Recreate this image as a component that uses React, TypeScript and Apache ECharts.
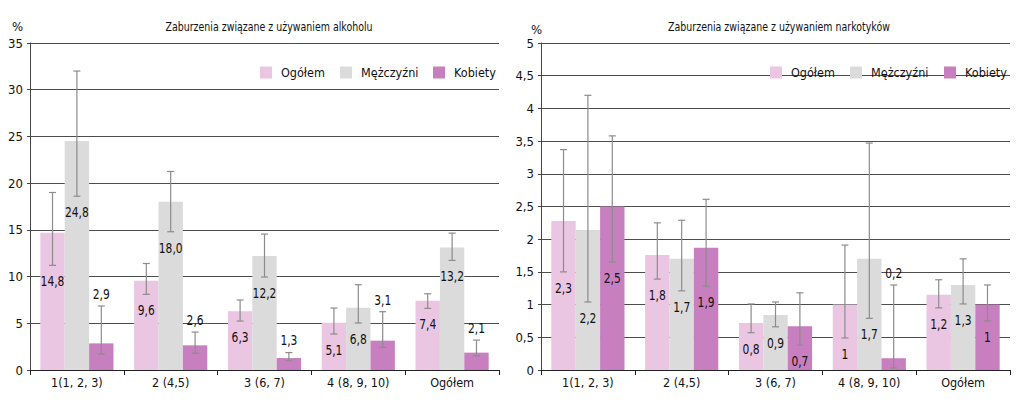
import React, { useEffect, useRef } from "react";
import * as echarts from "echarts";

const FONT = "'DejaVu Sans Condensed', 'DejaVu Sans', sans-serif";

const categories = ["1(1, 2, 3)", "2 (4,5)", "3 (6, 7)", "4 (8, 9, 10)", "Ogółem"];
const seriesNames = ["Ogółem", "Mężczyźni", "Kobiety"];
const seriesColors = ["#EAC6E2", "#DBDBDB", "#C87FC0"];

const titleAlcohol = "Zaburzenia związane z używaniem alkoholu";
const titleDrugs = "Zaburzenia związane z używaniem narkotyków";

// Alcohol (left)
const alcOgolem = [14.7, 9.55, 6.3, 5.06, 7.42];
const alcOgolemLow = [11.2, 8.1, 5.24, 3.85, 6.6];
const alcOgolemHigh = [19.0, 11.4, 7.49, 6.63, 8.16];
const alcOgolemLabels = ["14,8", "9,6", "6,3", "5,1", "7,4"];

const alcMen = [24.5, 18.0, 12.2, 6.65, 13.12];
const alcMenLow = [18.6, 14.8, 9.95, 5.03, 11.73];
const alcMenHigh = [32.0, 21.25, 14.55, 9.13, 14.65];
const alcMenLabels = ["24,8", "18,0", "12,2", "6,8", "13,2"];

const alcWomen = [2.85, 2.64, 1.28, 3.14, 1.86];
const alcWomenLow = [1.7, 1.8, 1.0, 2.42, 1.5];
const alcWomenHigh = [6.85, 4.06, 1.86, 6.24, 3.2];
const alcWomenLabels = ["2,9", "2,6", "1,3", "3,1", "2,1"];

// Drugs (right)
const drgOgolem = [2.28, 1.76, 0.72, 1.0, 1.15];
const drgOgolemLow = [1.5, 1.39, 0.57, 0.49, 0.95];
const drgOgolemHigh = [3.37, 2.25, 1.01, 1.91, 1.38];
const drgOgolemLabels = ["2,3", "1,8", "0,8", "1", "1,2"];

const drgMen = [2.14, 1.7, 0.84, 1.7, 1.3];
const drgMenLow = [1.04, 1.21, 0.66, 0.79, 1.01];
const drgMenHigh = [4.2, 2.29, 1.04, 3.47, 1.7];
const drgMenLabels = ["2,2", "1,7", "0,9", "1,7", "1,3"];

const drgWomen = [2.5, 1.87, 0.67, 0.18, 1.0];
const drgWomenLow = [1.65, 1.28, 0.38, 0.03, 0.75];
const drgWomenHigh = [3.58, 2.61, 1.18, 1.3, 1.3];
const drgWomenLabels = ["2,5", "1,9", "0,7", "0,2", "1"];

const alcTicks = { min: 0, max: 35, interval: 5 };
const drgTicks = { min: 0, max: 5, interval: 0.5 };

type Grp = { values: number[]; low: number[]; high: number[]; labels: string[] };

const alcGroups: Grp[] = [
  { values: alcOgolem, low: alcOgolemLow, high: alcOgolemHigh, labels: alcOgolemLabels },
  { values: alcMen, low: alcMenLow, high: alcMenHigh, labels: alcMenLabels },
  { values: alcWomen, low: alcWomenLow, high: alcWomenHigh, labels: alcWomenLabels },
];
const drgGroups: Grp[] = [
  { values: drgOgolem, low: drgOgolemLow, high: drgOgolemHigh, labels: drgOgolemLabels },
  { values: drgMen, low: drgMenLow, high: drgMenHigh, labels: drgMenLabels },
  { values: drgWomen, low: drgWomenLow, high: drgWomenHigh, labels: drgWomenLabels },
];

const CAT_GAP = 0.22;

function buildSeries(groups: Grp[], axisIndex: number) {
  const out: any[] = [];
  groups.forEach((g, k) => {
    out.push({
      type: "bar",
      name: seriesNames[k],
      xAxisIndex: axisIndex,
      yAxisIndex: axisIndex,
      data: g.values,
      barGap: "0%",
      barCategoryGap: CAT_GAP * 100 + "%",
      itemStyle: { color: seriesColors[k] },
      z: 2,
    });
  });
  groups.forEach((g, k) => {
    out.push({
      type: "custom",
      name: "err" + axisIndex + "_" + k,
      xAxisIndex: axisIndex,
      yAxisIndex: axisIndex,
      z: 5,
      clip: false,
      encode: { x: 0, y: [1, 2] },
      data: g.values.map((_, i) => [i, g.low[i], g.high[i]]),
      renderItem: (params: any, api: any) => {
        const i = api.value(0);
        const low = api.value(1);
        const high = api.value(2);
        const band = api.size([1, 0])[0];
        const barW = (band * (1 - CAT_GAP)) / 3;
        const cx = api.coord([i, 0])[0] + (k - 1) * barW;
        const y0 = api.coord([i, 0])[1];
        const yLow = api.coord([i, low])[1];
        const yHigh = api.coord([i, high])[1];
        const cap = 3.5;
        const ls = { stroke: "#8c8c8c", lineWidth: 1.2 };
        const below = yLow + 23 <= y0;
        const ty = below ? yLow + 16 : yHigh - 12;
        return {
          type: "group",
          children: [
            { type: "line", shape: { x1: cx, y1: yLow, x2: cx, y2: yHigh }, style: ls },
            { type: "line", shape: { x1: cx - cap, y1: yLow, x2: cx + cap, y2: yLow }, style: ls },
            { type: "line", shape: { x1: cx - cap, y1: yHigh, x2: cx + cap, y2: yHigh }, style: ls },
            {
              type: "text",
              x: cx,
              y: ty,
              scaleX: 0.85,
              style: {
                text: g.labels[params.dataIndex],
                fill: "#111",
                fontSize: 14,
                fontFamily: FONT,
                align: "center",
                verticalAlign: "middle",
              },
            },
          ],
        };
      },
    });
  });
  return out;
}

const fmt = (v: number) => String(v).replace(".", ",");

function yAxis(idx: number, t: { min: number; max: number; interval: number }) {
  return {
    type: "value",
    gridIndex: idx,
    min: t.min,
    max: t.max,
    interval: t.interval,
    axisLine: { show: true, lineStyle: { color: "#444", width: 1 } },
    axisTick: { show: true, length: 3, lineStyle: { color: "#444" } },
    axisLabel: { fontSize: 13, color: "#111", fontFamily: FONT, margin: 7, formatter: fmt },
    splitLine: { show: true, lineStyle: { color: "#4d4d4d", width: 1.1 } },
  };
}

function xAxis(idx: number) {
  return {
    type: "category",
    gridIndex: idx,
    data: categories,
    axisLine: { show: true, lineStyle: { color: "#222", width: 1.1 } },
    axisTick: { show: true, length: 5, alignWithLabel: false, lineStyle: { color: "#222" } },
    axisLabel: { fontSize: 12.5, color: "#111", fontFamily: FONT, margin: 6, interval: 0 },
  };
}

function legendItem(name: string, left: number) {
  return {
    left,
    top: 61,
    orient: "horizontal",
    data: [name],
    icon: "rect",
    itemWidth: 12,
    itemHeight: 12,
    textStyle: { fontSize: 12.5, color: "#111", fontFamily: FONT, padding: [0, 0, 0, 4] },
    selectedMode: false,
  };
}

const legendLeftX = [255, 335, 428];
const legendRightX = [765, 845, 939];

function titleText(text: string, x: number) {
  return {
    type: "text",
    x,
    y: 27,
    scaleX: 0.84,
    style: {
      text,
      fontSize: 12.5,
      fill: "#111",
      fontFamily: FONT,
      align: "center",
      verticalAlign: "middle",
    },
  };
}

export default function App() {
  const ref = useRef<HTMLDivElement>(null);
  useEffect(() => {
    if (!ref.current) return;
    const chart = echarts.init(ref.current, null, { renderer: "svg" });
    chart.setOption({
      animation: false,
      backgroundColor: "#fff",
      textStyle: { fontFamily: FONT },
      legend: [
        ...seriesNames.map((n, k) => legendItem(n, legendLeftX[k])),
        ...seriesNames.map((n, k) => legendItem(n, legendRightX[k])),
      ],
      grid: [
        { left: 30, right: 525, top: 43, bottom: 40 },
        { left: 541, right: 14, top: 43, bottom: 40 },
      ],
      xAxis: [xAxis(0), xAxis(1)],
      yAxis: [yAxis(0, alcTicks), yAxis(1, drgTicks)],
      graphic: [
        titleText(titleAlcohol, 269),
        titleText(titleDrugs, 779),
        { type: "text", left: 12, top: 20, style: { text: "%", fontSize: 13, fill: "#111", fontFamily: FONT } },
        { type: "text", left: 531, top: 23, style: { text: "%", fontSize: 13, fill: "#111", fontFamily: FONT } },
      ],
      series: [...buildSeries(alcGroups, 0), ...buildSeries(drgGroups, 1)],
    });
    return () => chart.dispose();
  }, []);
  return (
    <div
      ref={ref}
      style={{ position: "fixed", left: 0, top: 0, width: 1024, height: 410, background: "#fff" }}
    />
  );
}
